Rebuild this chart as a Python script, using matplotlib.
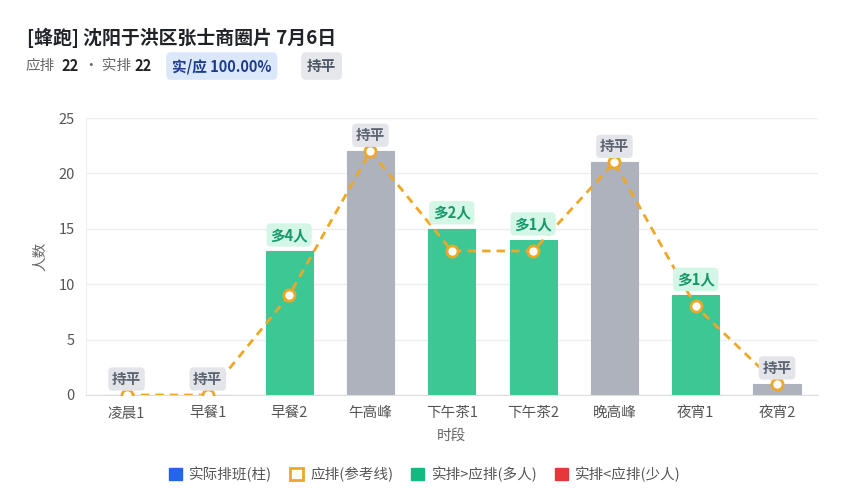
import numpy as np
import matplotlib
matplotlib.use("Agg")
import matplotlib.pyplot as plt
from matplotlib.patches import Patch

plt.rcParams['font.family'] = ['Noto Sans CJK SC', 'DejaVu Sans']

# 数据
slots = ["凌晨1", "早餐1", "早餐2", "午高峰", "下午茶1", "下午茶2", "晚高峰", "夜宵1", "夜宵2"]
actual = [0, 0, 13, 22, 15, 14, 21, 9, 1]
expected = [0, 0, 9, 22, 13, 13, 21, 8, 1]
title = "[蜂跑] 沈阳于洪区张士商圈片 7月6日"
total_expected = 22
total_actual = 22

GREEN = "#3dc795"
GRAY = "#adb2bd"
ORANGE = "#eea727"
RED = "#e5383b"
BLUE = "#2563eb"

fig = plt.figure(figsize=(8.5, 5), dpi=100)
ax = fig.add_axes([0.101, 0.21, 0.861, 0.554])

x = np.arange(len(slots))
colors = []
for a, e in zip(actual, expected):
    if a > e:
        colors.append(GREEN)
    elif a < e:
        colors.append(RED)
    else:
        colors.append(GRAY)

ax.bar(x, actual, width=0.58, color=colors, edgecolor=colors, linewidth=0.8, zorder=2)
ax.plot(x, expected, color=ORANGE, linestyle=(0, (3, 2.2)), linewidth=2, zorder=3)
ax.plot(x, expected, linestyle="none", marker="o", markersize=8, markerfacecolor="white",
        markeredgecolor=ORANGE, markeredgewidth=2, zorder=4)

# 差值标签
for i, (a, e) in enumerate(zip(actual, expected)):
    d = a - e
    top = max(a, e)
    if d > 0:
        txt, fc, tc = f"多{d}人", "#d4f6e6", "#14996a"
    elif d < 0:
        txt, fc, tc = f"少{-d}人", "#fde2e2", "#c81e1e"
    else:
        txt, fc, tc = "持平", "#e3e5ea", "#5b6270"
    ax.annotate(txt, (i, top), xytext=(0, 11.5), textcoords="offset points",
                ha="center", va="center", fontsize=10.5, fontweight="bold", color=tc,
                bbox=dict(boxstyle="round,pad=0.25,rounding_size=0.3", fc=fc, ec="none"),
                zorder=5)

ax.set_xlim(-0.5, len(slots) - 0.5)
ax.set_ylim(0, 25)
ax.set_yticks([0, 5, 10, 15, 20, 25])
ax.set_xticks(x)
ax.set_xticklabels(slots)
ax.tick_params(axis="both", length=0, labelsize=10.5, colors="#555555", pad=8)
ax.grid(axis="y", color="#eeeeee", linewidth=1, zorder=0)
ax.set_axisbelow(True)
for s in ["top", "right"]:
    ax.spines[s].set_visible(False)
ax.spines["left"].set_color("#eeeeee")
ax.spines["bottom"].set_color("#dddddd")
ax.set_ylabel("人数", fontsize=10.5, color="#666666", labelpad=8)
ax.set_xlabel("时段", fontsize=10.5, color="#666666", labelpad=6)

# 标题和摘要
fig.text(27 / 850, 1 - 38 / 500, title, fontsize=13.6, fontweight="bold", color="#1f2328", va="center")
yy = 1 - 66 / 500
fig.text(25 / 850, yy, "应排", fontsize=10.5, color="#666666", va="center")
fig.text(61 / 850, yy, str(total_expected), fontsize=10.5, fontweight="bold", color="#222222", va="center")
fig.text(84 / 850, yy, "· 实排", fontsize=10.5, color="#666666", va="center")
fig.text(134 / 850, yy, str(total_actual), fontsize=10.5, fontweight="bold", color="#222222", va="center")
fig.text(172 / 850, yy, f"实/应 {total_actual / total_expected * 100:.2f}%", fontsize=10.5, fontweight="bold",
         color="#1e3a8a", va="center",
         bbox=dict(boxstyle="round,pad=0.4,rounding_size=0.35", fc="#dbe8fb", ec="none"))
fig.text(307 / 850, yy, "持平", fontsize=10.5, fontweight="bold", color="#4b5563", va="center",
         bbox=dict(boxstyle="round,pad=0.4,rounding_size=0.35", fc="#e5e7eb", ec="none"))

# 图例
handles = [
    Patch(facecolor=BLUE, edgecolor=BLUE, label="实际排班(柱)"),
    Patch(facecolor="white", edgecolor=ORANGE, linewidth=2, label="应排(参考线)"),
    Patch(facecolor="#12b981", edgecolor="#12b981", label="实排>应排(多人)"),
    Patch(facecolor=RED, edgecolor=RED, label="实排<应排(少人)"),
]
leg = fig.legend(handles=handles, loc="center", bbox_to_anchor=(0.5, 1 - 474 / 500), ncol=4,
                 frameon=False, fontsize=10.5, handlelength=0.9, handleheight=0.9,
                 handletextpad=0.5, columnspacing=1.2)
for t in leg.get_texts():
    t.set_color("#555555")

fig.savefig("out.png", dpi=100, facecolor="white")
